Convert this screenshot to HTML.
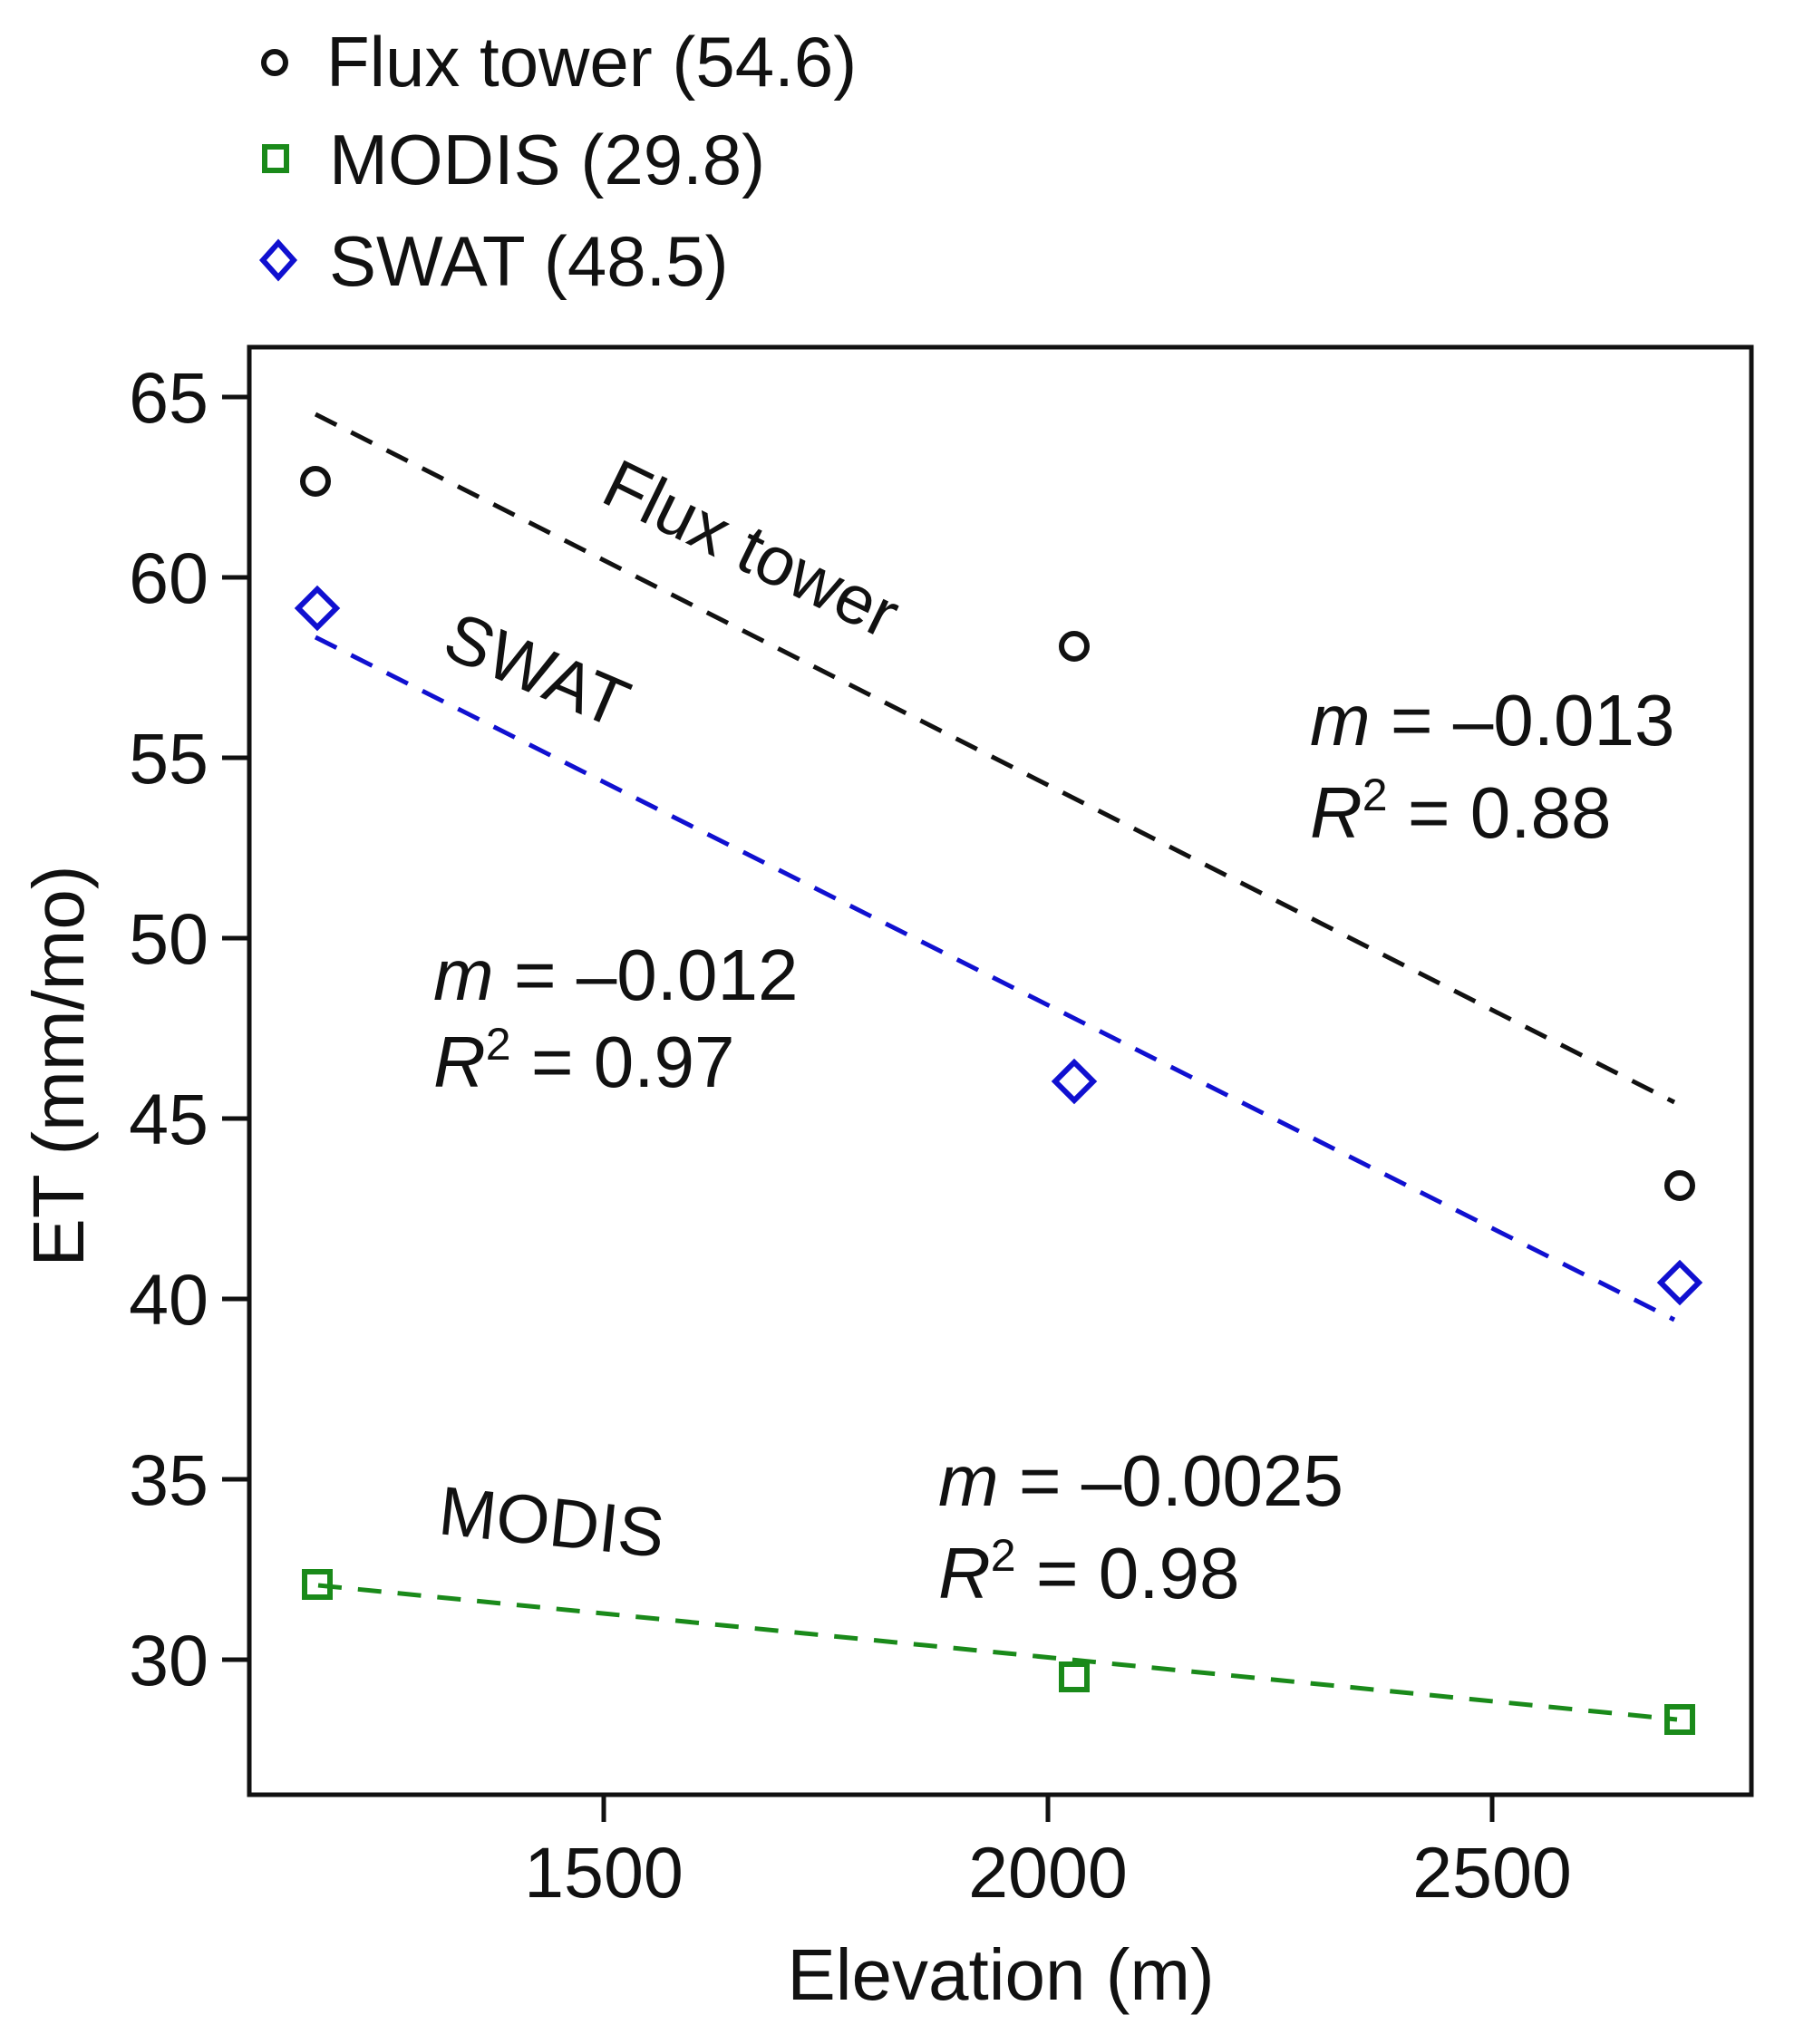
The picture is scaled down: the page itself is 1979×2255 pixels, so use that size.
<!DOCTYPE html>
<html><head><meta charset="utf-8"><style>html,body{margin:0;padding:0;background:#fff}svg{display:block}</style></head>
<body>
<svg width="1979" height="2255" viewBox="0 0 1979 2255" xmlns="http://www.w3.org/2000/svg" font-family="Liberation Sans, Arial, sans-serif" fill="#111">
<!-- legend -->
<circle cx="303" cy="69" r="12" fill="none" stroke="#111" stroke-width="6"/>
<text x="360" y="95" font-size="78">Flux tower (54.6)</text>
<rect x="292" y="162" width="24" height="26" fill="none" stroke="#1a8a1a" stroke-width="6"/>
<text x="363" y="203" font-size="78">MODIS (29.8)</text>
<path d="M307 268 L324 287 L307 306 L290 287 Z" fill="none" stroke="#1010d0" stroke-width="6"/>
<text x="363" y="315" font-size="78">SWAT (48.5)</text>
<!-- axes box -->
<rect x="275" y="383" width="1657" height="1597" fill="none" stroke="#111" stroke-width="5"/>
<!-- ticks -->
<g stroke="#111" stroke-width="5">
<line x1="245" y1="438" x2="275" y2="438"/><line x1="245" y1="637" x2="275" y2="637"/>
<line x1="245" y1="836" x2="275" y2="836"/><line x1="245" y1="1035" x2="275" y2="1035"/>
<line x1="245" y1="1234" x2="275" y2="1234"/><line x1="245" y1="1433" x2="275" y2="1433"/>
<line x1="245" y1="1632" x2="275" y2="1632"/><line x1="245" y1="1831" x2="275" y2="1831"/>
<line x1="666" y1="1980" x2="666" y2="2010"/><line x1="1156" y1="1980" x2="1156" y2="2010"/><line x1="1646" y1="1980" x2="1646" y2="2010"/>
</g>
<g font-size="79" text-anchor="end">
<text x="230" y="466">65</text><text x="230" y="665">60</text><text x="230" y="864">55</text>
<text x="230" y="1063">50</text><text x="230" y="1262">45</text><text x="230" y="1461">40</text>
<text x="230" y="1660">35</text><text x="230" y="1859">30</text>
</g>
<g font-size="79" text-anchor="middle">
<text x="666" y="2093">1500</text><text x="1156" y="2093">2000</text><text x="1646" y="2093">2500</text>
</g>
<text x="1104" y="2206" font-size="80" text-anchor="middle">Elevation (m)</text>
<text font-size="80" text-anchor="middle" transform="translate(92,1176) rotate(-90)">ET (mm/mo)</text>
<!-- trend lines -->
<line x1="348" y1="457" x2="1847" y2="1216" stroke="#111" stroke-width="5" stroke-dasharray="26 18"/>
<line x1="348" y1="703" x2="1847" y2="1456" stroke="#1010d0" stroke-width="5" stroke-dasharray="26 18"/>
<line x1="351" y1="1749" x2="1850" y2="1897" stroke="#1a8a1a" stroke-width="5" stroke-dasharray="26 18"/>
<!-- points -->
<g fill="none" stroke="#111" stroke-width="6">
<circle cx="348" cy="531" r="14"/><circle cx="1185" cy="713" r="14"/><circle cx="1853" cy="1308" r="14"/>
</g>
<g fill="none" stroke="#1a8a1a" stroke-width="6">
<rect x="336" y="1734" width="28" height="28"/><rect x="1171" y="1836" width="28" height="28"/><rect x="1839" y="1883" width="28" height="28"/>
</g>
<g fill="none" stroke="#1010d0" stroke-width="6">
<path d="M350 650 L371 671 L350 692 L329 671 Z"/><path d="M1185 1172 L1206 1193 L1185 1214 L1164 1193 Z"/><path d="M1853 1394 L1874 1415 L1853 1436 L1832 1415 Z"/>
</g>
<!-- annotations -->
<text font-size="76" transform="translate(660,552) rotate(26)">Flux tower</text>
<text font-size="76" transform="translate(485,722) rotate(23)">SWAT</text>
<text font-size="76" transform="translate(482,1692) rotate(6)">MODIS</text>
<g font-size="80">
<text x="1445" y="822"><tspan font-style="italic">m</tspan> = –0.013</text>
<text x="1445" y="924"><tspan font-style="italic">R</tspan><tspan font-size="50" dy="-30">2</tspan><tspan dy="30"> = 0.88</tspan></text>
<text x="478" y="1103"><tspan font-style="italic">m</tspan> = –0.012</text>
<text x="478" y="1199"><tspan font-style="italic">R</tspan><tspan font-size="50" dy="-30">2</tspan><tspan dy="30"> = 0.97</tspan></text>
<text x="1035" y="1661"><tspan font-style="italic">m</tspan> = –0.0025</text>
<text x="1035" y="1763"><tspan font-style="italic">R</tspan><tspan font-size="50" dy="-30">2</tspan><tspan dy="30"> = 0.98</tspan></text>
</g>
</svg>
</body></html>
